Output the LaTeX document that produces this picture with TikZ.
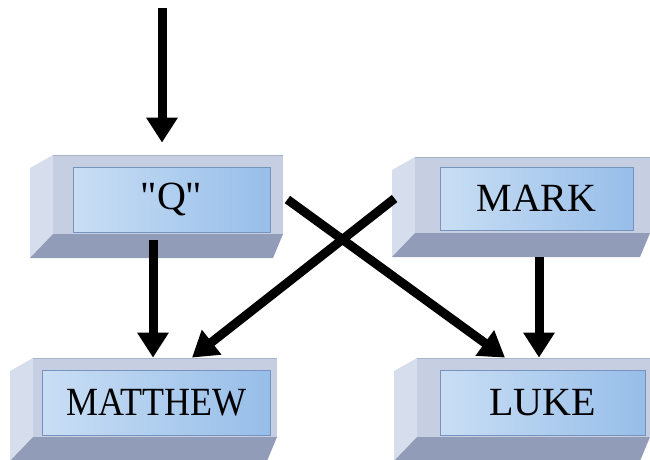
\documentclass[tikz,border=0pt]{standalone}
\usepackage{fontspec}
\setmainfont{Liberation Serif}
\newfontfamily\plainquotes{Liberation Serif}[Ligatures=TeXOff]
\usetikzlibrary{arrows.meta,calc}

\definecolor{faceC}{HTML}{C6CEE1}
\definecolor{sideC}{HTML}{D6DDEC}
\definecolor{bottomC}{HTML}{909CB8}
\definecolor{edgeC}{HTML}{A7B2CB}
\definecolor{innerL}{HTML}{C9DEF4}
\definecolor{innerR}{HTML}{97BEE9}
\definecolor{innerB}{HTML}{7892BE}

% bevelled slab: front face from (#1,#2) to (#3,#4), depth towards lower left
\newcommand\bevelslab[4]{%
  \fill[sideC] (#1,#2) -- (#1-23,#2+13) -- (#1-23,#4+24) -- (#1,#4) -- cycle;
  \fill[bottomC] (#1,#4) -- (#1-23,#4+24) -- (#3-10,#4+24) -- (#3,#4) -- cycle;
  \fill[faceC] (#1,#2) rectangle (#3,#4);
  \draw[edgeC, line width=0.8pt] (#1,#2) -- (#3,#2);
}

\begin{document}
\begin{tikzpicture}[x=1pt,y=-1pt,
  label/.style={draw=innerB, line width=0.8pt, left color=innerL, right color=innerR,
    inner sep=0pt, font=\fontsize{40}{40}\selectfont},
  conn/.style={line width=9pt, -{Triangle[width=30pt,length=25pt]}}]
\useasboundingbox (0,0) rectangle (650,459);

% slabs
\bevelslab{53}{155}{283}{234}
\bevelslab{415}{157}{650}{233}
\bevelslab{33}{358}{277}{437}
\bevelslab{417}{358}{650}{437}

% labels
\node[label, minimum width=197, minimum height=65] (q)  at (171.5,199.5) {\plainquotes "Q"};
\node[label, minimum width=193, minimum height=63] (mk) at (536.5,198.5) {MARK};
\node[label, minimum width=228, minimum height=65] (mt) at (156,402.5) {\scalebox{0.9}[1]{MATTHEW}};
\node[label, minimum width=205, minimum height=65] (lk) at (542.5,402.5) {LUKE};

% connectors
\coordinate (src) at (162,8);
\draw[conn] (src) -- ($(q.north)+(-9.5,-24)$);
\draw[conn] ($(q.south)+(-18.5,8)$) -- ($(mt.north)+(-3,-12)$);
\draw[conn] ($(mk.west)+(-45,0)$) -- ($(mt.north)+(36,-12)$);
\draw[conn] ($(q.east)+(17,0)$) -- ($(lk.north)+(-37.5,-12)$);
\draw[conn] ($(mk.south)+(2.5,27)$) -- ($(lk.north)+(-3.5,-12)$);
\end{tikzpicture}
\end{document}
